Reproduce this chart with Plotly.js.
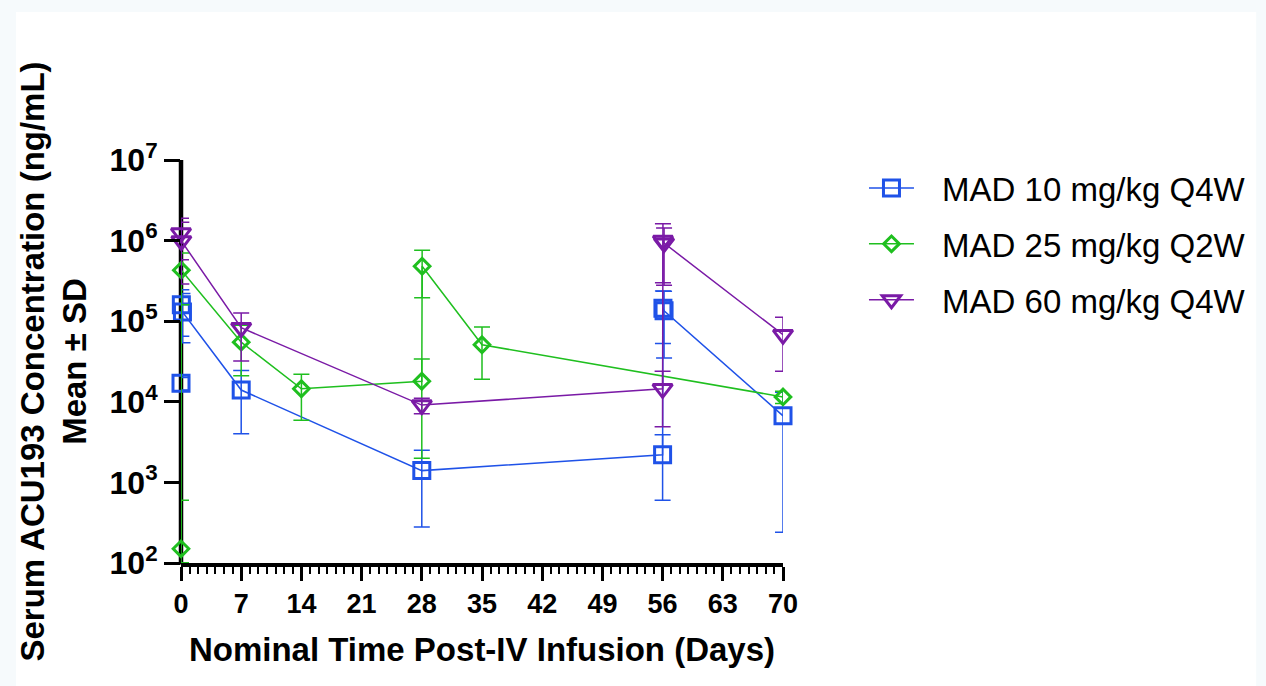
<!DOCTYPE html>
<html>
<head>
<meta charset="utf-8">
<script src="https://cdn.plot.ly/plotly-3.0.1.min.js"></script>
<style>
  html, body { margin: 0; padding: 0; background: #f6fafc; width: 1266px; height: 686px; overflow: hidden; }
  #chart { position: absolute; left: 0; top: 0; width: 1266px; height: 686px; }
</style>
</head>
<body>
<div id="chart"></div>
<script>
// ---- Data ----
const seriesNames = ["MAD 10 mg/kg Q4W", "MAD 25 mg/kg Q2W", "MAD 60 mg/kg Q4W"];

const days10 = [0, 0.04, 0.17, 7, 28, 56, 56.04, 56.17, 70];
const mean10 = [1.7e4, 1.6e5, 1.3e5, 1.4e4, 1.4e3, 2.2e3, 1.45e5, 1.35e5, 6.7e3];
const sdUp10 = [3e3, 8.5e4, 9.0e4, 1.05e4, 1.1e3, 1.7e3, 9.2e4, 1.0e5, 6.4e3];
const sdDn10 = [3e3, 9.5e4, 7.6e4, 1.0e4, 1.12e3, 1.6e3, 9.2e4, 1.0e5, 6.46e3];

const days25 = [0, 0.04, 7, 14, 28, 28.04, 35, 70];
const mean25 = [150, 4.3e5, 5.5e4, 1.45e4, 1.8e4, 4.8e5, 5.1e4, 1.15e4];
const sdUp25 = [450, 2.7e5, 3.4e4, 7.5e3, 1.6e4, 2.8e5, 3.4e4, 2.0e3];
const sdDn25 = [49, 2.7e5, 3.4e4, 8.6e3, 1.6e4, 2.85e5, 3.2e4, 2.0e3];

const days60 = [0, 0.04, 7, 28, 56, 56.04, 56.17, 70];
const mean60 = [1.24e6, 9.9e5, 8.3e4, 9.1e3, 1.45e4, 1.0e6, 9.3e5, 6.8e4];
const sdUp60 = [6.6e5, 7.0e5, 4.3e4, 2.0e3, 9.5e3, 6.2e5, 5.0e5, 4.4e4];
const sdDn60 = [6.6e5, 7.0e5, 5.1e4, 2.0e3, 9.6e3, 7.0e5, 6.5e5, 4.4e4];

const yTickVals = [100, 1000, 10000, 100000, 1000000, 10000000];
const yTickText = ["10<sup>2</sup>", "10<sup>3</sup>", "10<sup>4</sup>", "10<sup>5</sup>", "10<sup>6</sup>", "10<sup>7</sup>"];

// ---- Styles ----
const colors = ["#1f52e8", "#1fbf1f", "#7a1aa6"];
const symbols = ["square-open", "diamond-open", "triangle-down-open"];
const sizes = [16, 12, 17];
const FONT = "Liberation Sans, Arial, sans-serif";

function mk(i, x, y, up, dn) {
  return {
    type: "scatter", mode: "lines+markers", name: "\u2002\u2009" + seriesNames[i],
    legendgroup: "g" + i,
    x: x, y: y,
    cliponaxis: false,
    line: { color: colors[i], width: 1.5 },
    marker: { symbol: symbols[i], size: sizes[i], color: colors[i], line: { color: colors[i], width: 3 } },
    error_y: { type: "data", symmetric: false, array: up, arrayminus: dn, color: colors[i], thickness: 1.5, width: 8 }
  };
}

const data = [
  mk(0, days10, mean10, sdUp10, sdDn10),
  mk(1, days25, mean25, sdUp25, sdDn25),
  mk(2, days60, mean60, sdUp60, sdDn60)
];

const layout = {
  width: 1266, height: 686,
  margin: { l: 181, r: 483, t: 160, b: 123 },
  paper_bgcolor: "#f6fafc", plot_bgcolor: "#ffffff",
  font: { family: FONT, color: "#000000" },
  showlegend: true,
  legend: {
    x: 1.1345, xanchor: "left", y: 1.0, yanchor: "top",
    font: { size: 33, family: FONT, color: "#000" },
    traceorder: "grouped", tracegroupgap: 10, itemwidth: 45,
    bgcolor: "rgba(0,0,0,0)"
  },
  shapes: [
    // white card behind the chart (the reference has a faint tinted frame)
    { type: "rect", layer: "below", xref: "paper", yref: "paper",
      x0: -0.274, x1: 1.786, y0: -0.31, y1: 1.367,
      fillcolor: "#ffffff", line: { width: 0 } },
    // thick y axis line drawn beneath the markers
    { type: "line", layer: "below", xref: "paper", yref: "paper", x0: 0, x1: 0, y0: -0.004, y1: 1.0,
      line: { color: "#000", width: 4.5 } }
  ],
  xaxis: {
    range: [0, 70], tickmode: "linear", tick0: 0, dtick: 7,
    showgrid: false, zeroline: false, showline: true, linecolor: "#000", linewidth: 3.5,
    ticks: "outside", ticklen: 14, tickwidth: 3, tickcolor: "#000",
    minor: { dtick: 1, tick0: 0, ticks: "outside", ticklen: 7, tickwidth: 2, tickcolor: "#000", showgrid: false },
    tickfont: { size: 27, family: FONT, weight: "bold", color: "#000" },
    title: { text: "<b>Nominal Time Post-IV Infusion (Days)</b>", font: { size: 33, family: FONT, color: "#000" }, standoff: 21 }
  },
  yaxis: {
    type: "log", range: [2, 7],
    tickmode: "array", tickvals: yTickVals, ticktext: yTickText,
    showgrid: false, zeroline: false, showline: false,
    ticks: "outside", ticklen: 16, tickwidth: 3, tickcolor: "#000",
    tickfont: { size: 32, family: FONT, weight: "bold", color: "#000" },
    title: { text: "<b>Serum ACU193 Concentration (ng/mL)<br>Mean ± SD</b>", font: { size: 33, family: FONT, color: "#000" }, standoff: 12 }
  }
};

Plotly.newPlot("chart", data, layout, { displayModeBar: false, staticPlot: true });
</script>
</body>
</html>
